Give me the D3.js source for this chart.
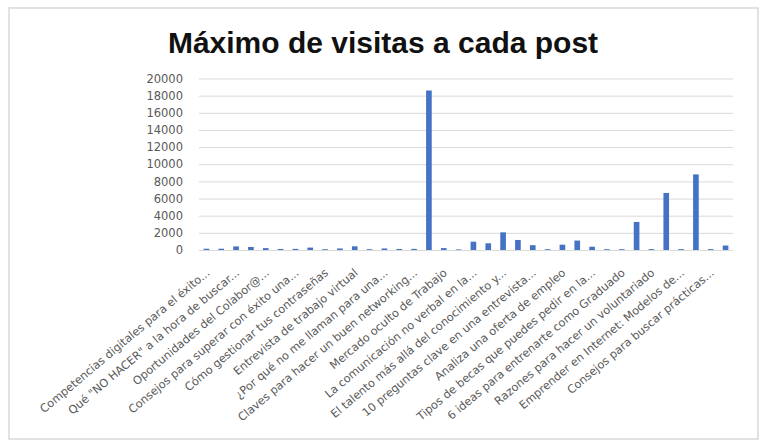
<!DOCTYPE html>
<html>
<head>
<meta charset="utf-8">
<script src="https://cdn.jsdelivr.net/npm/d3@7"></script>
<style>
  body { margin: 0; background: #fff; }
  svg { display: block; }
  .title { font-family: 'Liberation Sans', Arial, sans-serif; font-weight: bold; fill: #111; }
  .tick text { font-family: 'DejaVu Sans', sans-serif; fill: #595959; }
</style>
</head>
<body>
<svg width="761" height="444"></svg>
<script>
// post titles (only every other one is printed on the axis)
const posts = [
  'Competencias digitales para el éxito...', '',
  'Qué "NO HACER" a la hora de buscar...', '',
  'Oportunidades del Colabor@...', '',
  'Consejos para superar con éxito una...', '',
  'Cómo gestionar tus contraseñas', '',
  'Entrevista de trabajo virtual', '',
  '¿Por qué no me llaman para una...', '',
  'Claves para hacer un buen networking...', '',
  'Mercado oculto de Trabajo', '',
  'La comunicación no verbal en la...', '',
  'El talento más allá del conocimiento y...', '',
  '10 preguntas clave en una entrevista...', '',
  'Analiza una oferta de empleo', '',
  'Tipos de becas que puedes pedir en la...', '',
  '6 ideas para entrenarte como Graduado', '',
  'Razones para hacer un voluntariado', '',
  'Emprender en Internet: Modelos de...', '',
  'Consejos para buscar prácticas...', ''
]

// max visits per post
const visits = [
  150, 150, 420, 360, 220, 120, 130, 280, 90, 180, 430, 90,
  180, 120, 130, 18600, 220, 70, 970, 780, 2060, 1170, 560, 90,
  620, 1100, 380, 90, 90, 3270, 100, 6650, 100, 8820, 100, 520
]

const yTicks = [0, 2000, 4000, 6000, 8000, 10000, 12000, 14000, 16000, 18000, 20000]

const svg = d3.select('svg')

const plot = {left: 199, right: 733, top: 78.5, bottom: 250}

// chart frame
svg.append('rect')
.attr('x', 9)
.attr('y', 8)
.attr('width', 749)
.attr('height', 431)
.attr('fill', '#fff')
.attr('stroke', '#d9d9d9')
.attr('stroke-width', 1.5)

svg.append('text')
.attr('class', 'title')
.attr('x', 383)
.attr('y', 53)
.attr('text-anchor', 'middle')
.attr('font-size', 30)
.text('Máximo de visitas a cada post')

const idx = d3.range(visits.length)

const x = d3.scaleBand()
.domain(idx)
.range([plot.left, plot.right])
.paddingInner(0.62)
.paddingOuter(0.31)

const y = d3.scaleLinear()
.domain([0, 20000])
.range([plot.bottom, plot.top])

// gridlines + y labels
const yAxis = svg.append('g')
.attr('transform', `translate(${plot.left}, 0)`)
.call(d3.axisLeft(y).tickValues(yTicks).tickFormat(d3.format('d')).tickSize(-(plot.right - plot.left)).tickPadding(16))

yAxis.select('.domain').remove()
yAxis.selectAll('.tick line').attr('stroke', '#d9d9d9').attr('stroke-width', 1)
yAxis.selectAll('.tick text').attr('font-size', 11.5)

// bars
svg.append('g')
.selectAll('rect')
.data(idx)
.join('rect')
.attr('x', i => x(i))
.attr('y', i => y(visits[i]))
.attr('width', x.bandwidth())
.attr('height', i => y(0) - y(visits[i]))
.attr('fill', '#4472c4')

// baseline
svg.append('line')
.attr('x1', plot.left)
.attr('x2', plot.right)
.attr('y1', y(0) + 0.5)
.attr('y2', y(0) + 0.5)
.attr('stroke', '#d9d9d9')

// category labels, rotated, only every other one
const xAxis = svg.append('g')
.attr('transform', `translate(0, ${plot.bottom})`)
.call(d3.axisBottom(x).tickSize(0).tickFormat(i => posts[i]))

xAxis.select('.domain').remove()
xAxis.selectAll('.tick text')
.attr('font-size', 11.3)
.attr('text-anchor', 'end')
.attr('dy', 0)
.attr('y', 0)
.attr('transform', 'translate(4, 24) rotate(-40)')
</script>
</body>
</html>
